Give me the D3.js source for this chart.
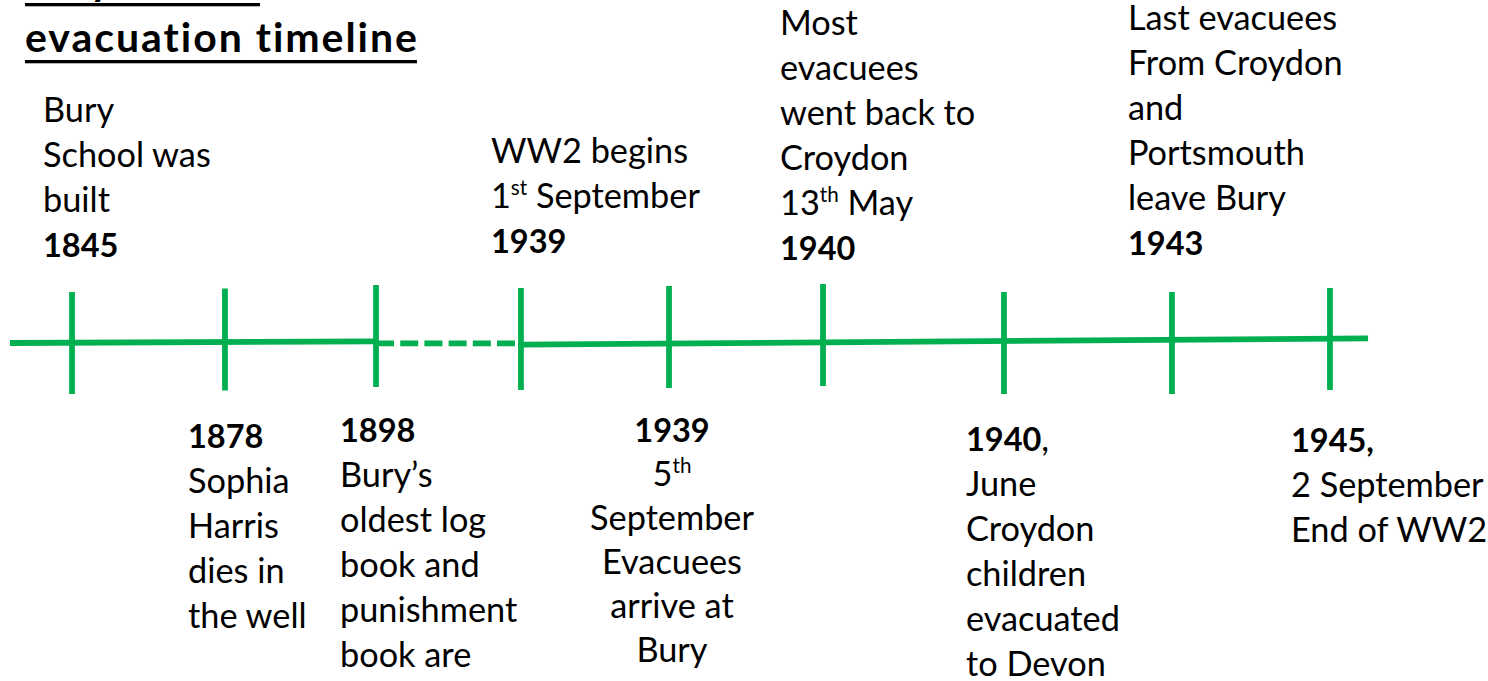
<!DOCTYPE html>
<html>
<head>
<meta charset="utf-8">
<script src="https://cdn.jsdelivr.net/npm/d3@7.9.0/dist/d3.min.js"></script>
<style>
  html, body { margin: 0; padding: 0; background: #fff; overflow: hidden; }
  svg { display: block; font-family: Lato, "Open Sans", sans-serif; font-variant-ligatures: none; }
</style>
</head>
<body>
<svg id="chart"></svg>
<script>
// ---- content ----
const titleLines = ["Bury School", "evacuation timeline"];
const eventYears = [1845, 1878, 1898, 1939, 1939, 1940, 1940, 1943, 1945];
const eventSide = ["top", "bottom", "bottom", "top", "bottom", "top", "bottom", "top", "bottom"];
// where each tick sits along the slide (percent of slide width)
const eventSlot = [4.84, 15.12, 25.27, 35.01, 44.96, 55.31, 67.47, 78.76, 89.38];
// **bold**, ^sup
const eventText = [
  ["Bury", "School was", "built", "**1845**"],
  ["**1878**", "Sophia", "Harris", "dies in", "the well"],
  ["**1898**", "Bury’s", "oldest log", "book and", "punishment", "book are"],
  ["WW2 begins", "1^st September", "**1939**"],
  ["**1939**", "5^th", "September", "Evacuees", "arrive at", "Bury"],
  ["Most", "evacuees", "went back to", "Croydon", "13^th May", "**1940**"],
  ["**1940**,", "June", "Croydon", "children", "evacuated", "to Devon"],
  ["Last evacuees", "From Croydon", "and", "Portsmouth", "leave Bury", "**1943**"],
  ["**1945,**", "2 September", "End of WW2"]
];
// the line itself: solid / dashed pieces, [fromSlot, toSlot]
const lineSegments = [
  { from: 0.67, to: 25.27, dashed: false },
  { from: 25.27, to: 35.01, dashed: true },
  { from: 35.01, to: 91.94, dashed: false }
];

// ---- layout ----
const width = 1488, height = 681;
const green = "#00b050";
const bodySize = 34.3;
const boldSize = 32.5;
const titleSize = 41;
const lineY = [343, 341.3, 343.3, 344.7, 338.3]; // left seg start/end, dash, right seg start/end
const tickMid = [343, 339.5, 336, 339, 337, 335, 343, 343, 339];
const tickHalf = 51;
const labelDx = [-29, -37, -36, -30, 3, -43, -38, -44, -39];
const labelBase = [122, 448, 442, 163, 442, 35, 451, 30, 452];
const labelLead = [45, 45, 45, 45, 44, 45, 45, 45, 45];

const x = d3.scaleLinear().domain([0, 100]).range([0, width]);

const svg = d3.select("#chart")
  .attr("width", width)
  .attr("height", height)
  .attr("viewBox", `0 0 ${width} ${height}`);

// title, bold + underlined (first line is cut off by the top edge)
const titleBase = [-5, 52];
const titleWidth = [235, 392];
titleLines.forEach((t, i) => {
  const txt = svg.append("text")
    .attr("x", 25)
    .attr("y", titleBase[i])
    .attr("font-size", titleSize)
    .attr("font-weight", 700)
    .attr("fill", "#000")
    .text(t);
  if (i === 1) txt.attr("textLength", titleWidth[i]).attr("lengthAdjust", "spacing");
  svg.append("rect")
    .attr("x", 25)
    .attr("y", titleBase[i] + 8)
    .attr("width", titleWidth[i])
    .attr("height", 3.3)
    .attr("fill", "#000");
});

// main line
const segY = [[lineY[0], lineY[1]], [lineY[2], lineY[2]], [lineY[3], lineY[4]]];
svg.append("g")
  .selectAll("line")
  .data(lineSegments)
  .join("line")
  .attr("x1", (d) => x(d.from))
  .attr("x2", (d) => x(d.to))
  .attr("y1", (d, i) => segY[i][0])
  .attr("y2", (d, i) => segY[i][1])
  .attr("stroke", green)
  .attr("stroke-width", 5.8)
  .attr("stroke-dasharray", (d) => (d.dashed ? "18 6.2" : null));

// ticks
svg.append("g")
  .selectAll("line")
  .data(eventSlot)
  .join("line")
  .attr("x1", (d) => x(d))
  .attr("x2", (d) => x(d))
  .attr("y1", (d, i) => tickMid[i] - tickHalf)
  .attr("y2", (d, i) => tickMid[i] + tickHalf)
  .attr("stroke", green)
  .attr("stroke-width", 5.8);

// rich text: **bold** and ^superscript
function addRich(textSel, str) {
  const parts = str.split(/(\*\*[^*]+\*\*|\^[a-z]+)/).filter((s) => s);
  let raised = false;
  parts.forEach((p) => {
    const ts = textSel.append("tspan");
    if (p.startsWith("**")) {
      ts.attr("font-weight", 700).attr("font-size", boldSize).text(p.slice(2, -2));
    } else if (p.startsWith("^")) {
      ts.attr("font-size", bodySize * 0.6).attr("dy", -13).text(p.slice(1));
      raised = true;
      return;
    } else {
      ts.text(p);
    }
    if (raised) {
      ts.attr("dy", 13);
      raised = false;
    }
  });
}

// labels
const labels = svg.append("g").attr("font-size", bodySize).attr("fill", "#000");
eventText.forEach((lines, i) => {
  const centered = i === 4;
  lines.forEach((ln, j) => {
    const t = labels.append("text")
      .attr("x", x(eventSlot[i]) + labelDx[i])
      .attr("y", labelBase[i] + j * labelLead[i])
      .attr("text-anchor", centered ? "middle" : "start")
      .attr("data-year", eventYears[i])
      .attr("data-side", eventSide[i]);
    addRich(t, ln);
  });
});
</script>
</body>
</html>
